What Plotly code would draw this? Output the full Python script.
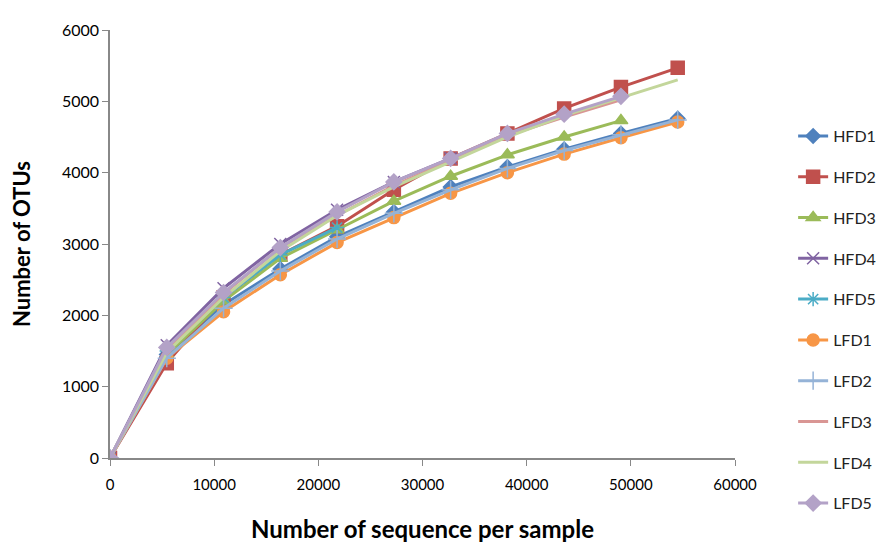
import plotly.graph_objects as go

x_full = [0, 5450, 10900, 16350, 21800, 27250, 32700, 38150, 43600, 49050, 54500]

names = ["HFD1", "HFD2", "HFD3", "HFD4", "HFD5", "LFD1", "LFD2", "LFD3", "LFD4", "LFD5"]
hfd1 = [0, 1450, 2150, 2650, 3100, 3450, 3800, 4080, 4330, 4550, 4760]
hfd2 = [0, 1330, 2250, 2850, 3250, 3760, 4200, 4550, 4900, 5200, 5470]
hfd3 = [0, 1450, 2200, 2800, 3200, 3600, 3950, 4250, 4500, 4730]
hfd4 = [0, 1580, 2380, 3000, 3480, 3870, 4200]
hfd5 = [0, 1500, 2250, 2850, 3230]
lfd1 = [0, 1400, 2050, 2570, 3020, 3370, 3710, 4000, 4260, 4490, 4710]
lfd2 = [0, 1400, 2100, 2620, 3070, 3430, 3760, 4060, 4310, 4530, 4740]
lfd3 = [0, 1500, 2300, 2950, 3400, 3820, 4170, 4520, 4780, 5020]
lfd4 = [0, 1480, 2250, 2900, 3400, 3800, 4150, 4500, 4800, 5050, 5300]
lfd5 = [0, 1550, 2320, 2950, 3450, 3870, 4200, 4550, 4820, 5070]

series = [hfd1, hfd2, hfd3, hfd4, hfd5, lfd1, lfd2, lfd3, lfd4, lfd5]
colors = ["#4F81BD", "#C0504D", "#9BBB59", "#8064A2", "#4BACC6",
          "#F79646", "#95B3D7", "#D99694", "#C3D69B", "#B3A2C7"]
symbols = ["diamond", "square", "triangle-up", "x-thin-open", "asterisk-open",
           "circle", "cross-thin-open", None, None, "diamond"]
sizes = [11, 13, 12, 12, 12, 12, 13, 0, 0, 12]

fig = go.Figure()
for n, ys, c, s, sz in zip(names, series, colors, symbols, sizes):
    kw = {}
    if s is None:
        mode = "lines"
    else:
        mode = "lines+markers"
        kw["marker"] = dict(symbol=s, size=sz, color=c, line=dict(color=c, width=1.5))
    fig.add_trace(go.Scatter(x=x_full[:len(ys)], y=ys, name=n, mode=mode,
                             line=dict(color=c, width=3), legendgroup=n, **kw))

fig.update_layout(
    width=893, height=546,
    margin=dict(l=102, r=166, t=14, b=96),
    plot_bgcolor="white", paper_bgcolor="white",
    font=dict(family="Lato", size=15, color="#000000"),
    legend=dict(x=1.093, y=0.792, xanchor="left", yanchor="top",
                tracegroupgap=17, font=dict(size=16, color="#222")),
    xaxis=dict(range=[0, 60000], tickvals=[0, 10000, 20000, 30000, 40000, 50000, 60000],
               ticktext=["0", "10000", "20000", "30000", "40000", "50000", "60000"],
               showline=True, linecolor="#888", linewidth=1.5, ticks="outside",
               tickcolor="#888", ticklen=6, showgrid=False, zeroline=False,
               ticklabelstandoff=6,
               title=dict(text="<b>Number of sequence per sample</b>", font=dict(size=24), standoff=29)),
    yaxis=dict(range=[0, 6000], tickvals=[0, 1000, 2000, 3000, 4000, 5000, 6000],
               showline=True, linecolor="#888", linewidth=1.5, ticks="outside",
               tickcolor="#888", ticklen=6, showgrid=False, zeroline=False,
               tickfont=dict(size=16),
               title=dict(text="<b>Number of OTUs</b>", font=dict(size=22), standoff=25)),
)
fig.write_html("out.html")
